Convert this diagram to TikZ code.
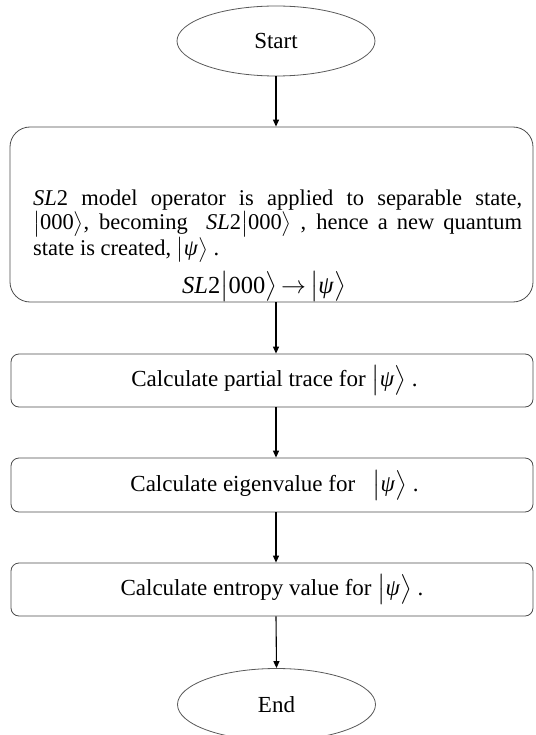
\documentclass[tikz,border=0pt]{standalone}
\usepackage{amsmath}
\usepackage{fontspec}
\setmainfont{Liberation Serif}
\usetikzlibrary{shapes.geometric,arrows.meta}

% ket with slightly enlarged delimiters, content set in text font
\newcommand\ketz[1]{\ensuremath{\bigl|\text{#1}\bigr\rangle}}
\newcommand\psiket{\ketz{\textit{ψ}}}
\newcommand\slop{\textit{SL}2}

\tikzset{
  terminal/.style={draw=black!65, line width=0.8pt, ellipse, inner sep=0pt,
    minimum width=198pt, minimum height=70pt},
  procbox/.style={draw=black!70, line width=0.8pt, rounded corners=8pt,
    minimum width=522pt, minimum height=53pt, inner sep=0pt,
    font=\fontsize{23}{23}\selectfont},
  bigbox/.style={draw=black!70, line width=0.8pt, rounded corners=20pt,
    minimum width=523pt, minimum height=175pt, inner sep=0pt},
  flow/.style={draw=black, line width=1.1pt,
    -{Triangle[length=7pt,width=6pt]}},
  every node/.style={font=\fontsize{22.5}{21}\selectfont}
}

\begin{document}
\begin{tikzpicture}[x=1pt,y=-1pt]
\useasboundingbox (0,0) rectangle (535,735);

\node[terminal, font=\fontsize{23}{23}\selectfont] (start) at (276,41) {Start};

\node[bigbox] (apply) at (271.5,214.5) {};
\node[anchor=north west, inner sep=0pt, text width=489pt, align=justify]
  (desc) at (33,190)
  {\tolerance=10000\baselineskip=22.5pt\lineskiplimit=-20pt
   \slop{} model operator is applied to separable state,\linebreak
   \ketz{000}, becoming \ \slop\ketz{000} , hence a new quantum\linebreak
   state is created, \psiket{} .};
\node[anchor=base, inner sep=0pt, font=\fontsize{24.5}{24.5}\selectfont]
  (rel) at (264,293)
  {\slop\ketz{000}\,\ensuremath{\rightarrow}\,\psiket};

\node[procbox] (trace) at (272,380.5) {\hspace*{5pt}Calculate partial trace for \psiket{} .};
\node[procbox, minimum height=54pt] (eigen) at (272,485)
  {\hspace*{5pt}Calculate eigenvalue for \ \ \psiket{} .};
\node[procbox] (entropy) at (272,589.5) {Calculate entropy value for \psiket{} .};

\node[terminal, minimum height=72pt, font=\fontsize{23}{23}\selectfont]
  (finish) at (276.5,704.5) {End};

\draw[flow] (start.south) -- (start.south |- apply.north);
\draw[flow] (start.south |- apply.south) -- (start.south |- trace.north);
\draw[flow] (start.south |- trace.south) -- (start.south |- eigen.north);
\draw[flow] (start.south |- eigen.south) -- (start.south |- entropy.north);
\draw[flow] (start.south |- entropy.south) -- (finish.north);
\end{tikzpicture}
\end{document}
